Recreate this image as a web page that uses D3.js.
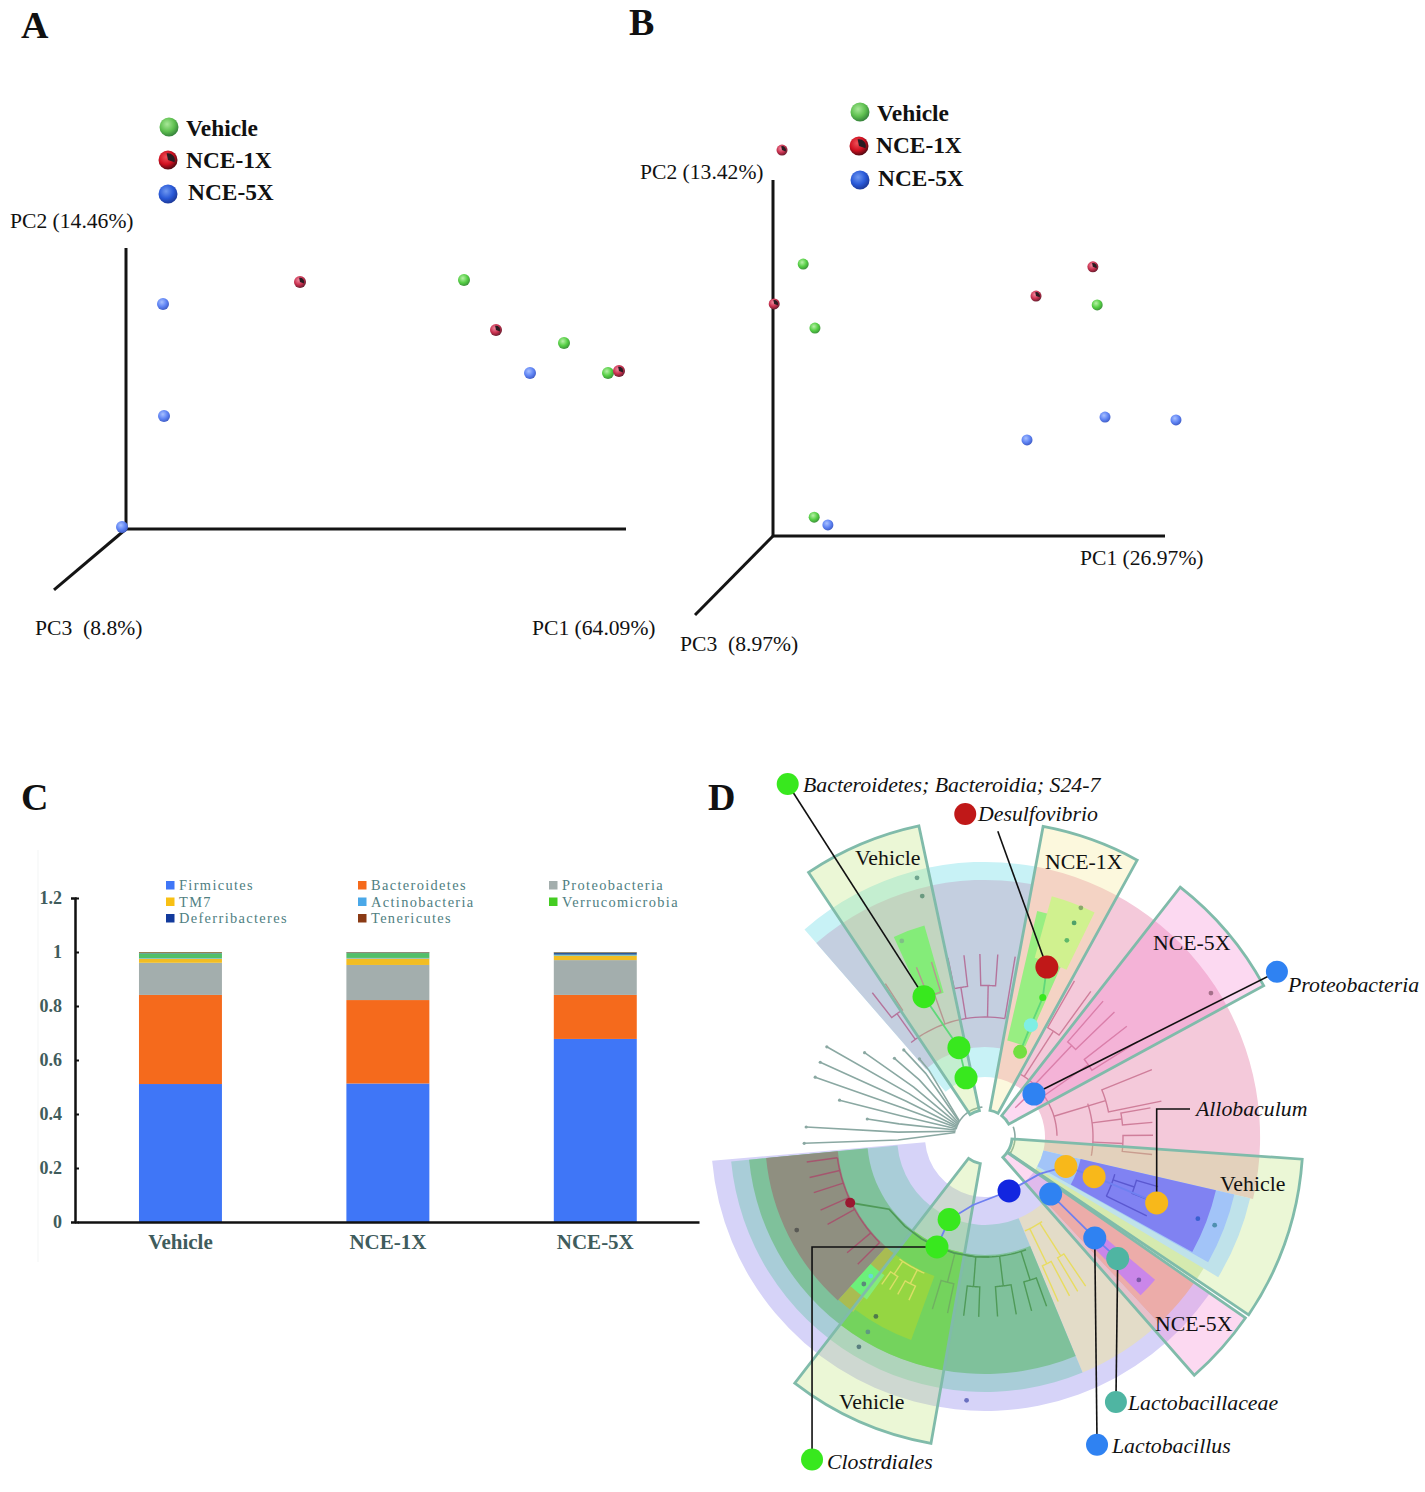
<!DOCTYPE html>
<html>
<head>
<meta charset="utf-8">
<script src="https://cdn.jsdelivr.net/npm/d3@7"></script>
<style>
html,body{margin:0;padding:0;background:#fff;}
svg{display:block;}
text{font-family:"Liberation Serif","Times New Roman",serif;white-space:pre;}
</style>
</head>
<body>
<div id="chart"></div>
<script>
// ---------- Panels A and B: PCoA coordinates, as fractions of the drawn axes ----------
const groups = ["Vehicle", "NCE-1X", "NCE-5X"];
const pcoaA_vehicle = [[0.676, 0.886], [0.876, 0.662], [0.964, 0.555]];
const pcoaA_nce1x   = [[0.348, 0.879], [0.740, 0.708], [0.986, 0.562]];
const pcoaA_nce5x   = [[0.074, 0.801], [0.076, 0.402], [0.808, 0.555], [-0.008, 0.007]];
const pcoaB_vehicle = [[0.077, 0.764], [0.107, 0.584], [0.827, 0.649], [0.105, 0.053]];
const pcoaB_nce1x   = [[0.023, 1.084], [0.816, 0.756], [0.671, 0.674], [0.003, 0.652]];
const pcoaB_nce5x   = [[0.140, 0.031], [0.648, 0.270], [0.847, 0.334], [1.028, 0.326]];

// ---------- Panel C: relative abundance ----------
const phyla = ["Firmicutes", "Bacteroidetes", "Proteobacteria", "TM7", "Actinobacteria", "Verrucomicrobia", "Deferribacteres", "Tenericutes"];
const abundanceVehicle = [0.511, 0.330, 0.119, 0.015, 0.002, 0.018, 0.002, 0.003];
const abundanceNce1x   = [0.513, 0.309, 0.130, 0.024, 0.002, 0.018, 0.002, 0.002];
const abundanceNce5x   = [0.678, 0.163, 0.129, 0.016, 0.002, 0.002, 0.008, 0.002];
const yTicks = [0, 0.2, 0.4, 0.6, 0.8, 1, 1.2];

// ---------- Panel D: cladogram. angle in degrees clockwise from north, level = ring depth ----------
// [clade style, start angle, end angle, inner level, outer level]
const cladeSectors = [
  ["cyan", -41, 10.6, 2, 9.17], ["slate", -41, 10.6, 3, 8.57],
  ["pink", 10.6, 103, 2, 9.17],
  ["pale", 119, 124.4, 2, 8.5],
  ["lavender", 125, 265, 2, 9.13], ["salmon", 125, 137, 2.7, 8.5],
  ["sand", 137, 157.5, 2.93, 8.5], ["mist", 157.5, 264.5, 2.93, 8.5], ["sea", 157.5, 264.5, 3.93, 7.9],
  ["grass", 190, 217.7, 3.93, 7.9],
  ["taupe", 222, 264.5, 4.93, 7.33], ["olive", 217, 222, 4.93, 7.3], ["lime", 200, 217, 4.93, 7.2], ["mint", 216, 222, 5.7, 6.7],
  ["purple", 130, 135.5, 5, 7.4],
  ["mint", 13, 24, 3.3, 7.73], ["spring", 15.5, 26, 6.2, 8.33], ["mint", -24.5, -16, 5, 7.33]
];
// clades that lie over their group wedge
const overlaySectors = [
  ["teal", 103, 121, 2, 9.07], ["sky", 103, 119.3, 2, 8.53], ["violet", 103, 119, 3.27, 7.9]
];
// [wedge group, start angle, end angle, outer level]
const groupWedges = [
  ["Vehicle", -33.7, -12, 10.6], ["NCE-1X", 10.6, 28.8, 10.53], ["NCE-5X", 38, 61.5, 10.57],
  ["Vehicle", 94, 124, 10.6], ["NCE-5X", 124.8, 138.7, 10.57], ["Vehicle", 190, 217.7, 10.37]
];
// unlabeled grey tips from the root: [angle, tip level]
const rootBranches = [[-43, 3.97], [-49, 4], [-60.3, 6.07], [-65.6, 6.03], [-70.6, 6], [-75.8, 5], [-81.3, 3.97], [-86.8, 5.97], [-92, 6.03], [-40, 3.4], [-55, 4.9]];
// clade trees: [clade style, trunk angle or null, spine level, spine start, spine end, tip level, forked?, tip angles...]
const cladeTrees = [
  ["plum", null, 4, -38, 9.5, 6.1, true, [-38, -33, -22, -17, -11.7, -6.6, -1.6, 4, 9.5]],
  ["rose", 46, 2.4, 29.8, 89, 6, true, [29.8, 36, 41, 46, 52, 58, 68, 78.5]],
  ["rose", null, 3.6, 72, 100, 5.6, true, [80, 85, 89.4, 96]],
  ["wine", null, 4.97, 225, 262, 6, false, [262, 257, 252, 246, 241, 230, 225]],
  ["forest", null, 4, 160, 197, 6, true, [197, 192, 186.8, 182, 176, 170, 165, 160]],
  ["amber", null, 3.4, 146, 157, 6, true, [146, 149, 152, 156]],
  ["amber", null, 4.97, 204, 215, 6, true, [205, 209, 212, 215]],
  ["indigo", null, 4.5, 106, 116, 6, true, [106, 111, 116]]
];
// connecting paths: [clade style, [angle, level] ...]
const nodeLinks = [
  ["mintline", [-17.8, 2.07], [-16.3, 3.1], [-23.5, 5.1]],
  ["mintline", [22.4, 3.07], [22.3, 4.03], [22.5, 5.03], [20, 6.03]],
  ["royal", [156, 1.97], [124, 2.2], [110, 2.87], [110, 3.87], [111, 6.13]],
  ["royal", [156, 1.97], [190, 2.3], [203.5, 3], [203.6, 4]],
  ["forest", [203.6, 4], [195, 4], [185, 4], [178, 4]],
  ["forest", [203.6, 4], [212, 4], [222, 4], [233, 4], [244, 5]],
  ["royal", [131, 2.9], [132.6, 4.97], [132.5, 6]]
];
// [fill style, angle, level, size class]
const cladeNodes = [
  ["bright", -23.5, 5.1, "big"], ["bright", -16.3, 3.1, "big"], ["bright", -17.8, 2.07, "big"],
  ["bright", 22.5, 5.03, "tiny"], ["aqua", 22.3, 4.03, "mid"], ["leaf", 22.4, 3.07, "mid"],
  ["crimson", 20, 6.03, "big"], ["azure", 48.7, 2.17, "big"], ["gold", 110, 2.87, "big"], ["gold", 110, 3.87, "big"],
  ["gold", 111, 6.13, "big"], ["navy", 156, 1.97, "big"], ["azure", 131, 2.9, "big"], ["azure", 132.6, 4.97, "big"],
  ["jade", 132.5, 6, "big"], ["bright", 203.5, 3, "big"], ["bright", 203.6, 4, "big"],
  ["maroon", 244, 5, "small"]
];
// small taxon markers at tips
const tipMarkers = [
  [-14.7, 8.93, "#6fa58e"], [-14.6, 8.3, "#6a9a80"], [-23, 7.1, "#7fbf86"], [22.7, 8.28, "#8aaa6a"], [22.6, 7.73, "#4fa06a"], [22.6, 7.1, "#5fb86a"],
  [57.5, 8.93, "#a5708a"], [243.7, 7, "#5a5a55"], [219.5, 6.35, "#5a8a7a"], [219.4, 6, "#66d8d8"], [211.3, 7, "#4f7a4a"], [211, 7.58, "#5f9a80"],
  [211, 8.16, "#5a7f80"], [184, 8.8, "#6a70c0"], [111, 7.6, "#3a60d0"], [111, 8.2, "#4f90b0"], [132.9, 7, "#7a58a8"]
];
// callouts: [taxon, angle, level of its key dot, fill style]
const calloutDots = [
  ["Bacteroidetes; Bacteroidia; S24-7", -29.2, 13.48, "bright"],
  ["Desulfovibrio", -3.5, 10.79, "crimson"],
  ["Proteobacteria", 60.5, 11.18, "azure"],
  ["Lactobacillaceae", 153.7, 9.85, "jade"],
  ["Lactobacillus", 160, 10.92, "azure"],
  ["Clostrdiales", 208.2, 12.2, "bright"]
];

// ---------- styles and layout (no data below) ----------
const W = 1425, H = 1492;
const phylumColors = ["#3f76f7", "#f56a1c", "#a3aead", "#f2bd22", "#4aa8e8", "#53bf68", "#2a5a9c", "#8a6a28"];
const legendSwatches = ["#3f76f7", "#f56a1c", "#a3aead", "#f8c014", "#4aa8e8", "#44cc22", "#123a9c", "#8a3a14"];
const sectorFill = {
  cyan: "#c8f2f6", slate: "#c4cfe0", pink: "#f4c9da", teal: "#bfe2ea", sky: "#a2c4f8", violet: "#8082f2", pale: "#e0ecc8",
  lavender: "#d6d3f8", mist: "#a9cdd8", sea: "#7fc19b", grass: "#55cc52", taupe: "#8f8f80", olive: "#a9bc52", lime: "#85d02c",
  purple: "#b888f4", mint: "#6cf07a", spring: "#bff58c", salmon: "#e8bf98", sand: "#e3dcc8"
};
const wedgeFill = { "Vehicle": "rgba(190,228,120,0.30)", "NCE-1X": "rgba(245,232,150,0.32)", "NCE-5X": "rgba(245,130,210,0.30)" };
const wedgeLine = "#80bbaa";
const treeColor = { plum: "#b5749c", rose: "#cf7e9a", wine: "#a5566e", forest: "#4f9a58", amber: "#e8dc60", indigo: "#5a58d0" };
const linkColor = { mintline: "#5fd87a", royal: "#6f80f0", forest: "#4f9a58" };
const nodeFill = {
  bright: "#38e81e", aqua: "#7feee4", leaf: "#72e040", crimson: "#c01818", azure: "#2f82f2", gold: "#f8b81a",
  navy: "#1226e0", jade: "#4fb5a2", maroon: "#9a1830"
};
const nodeSize = { big: 11.5, mid: 7, small: 5, tiny: 3.5 };
const sphereColors = { "Vehicle": ["#b8f0a8", "#55cf44", "#3a8a3a"], "NCE-1X": ["#f28aa0", "#c8304e", "#5a1a2a"], "NCE-5X": ["#a8c0ff", "#5f84f4", "#3c58c0"] };
const keyColors = { "Vehicle": ["#a8e898", "#5fc050", "#2f7a38"], "NCE-1X": ["#f05058", "#d01020", "#400810"], "NCE-5X": ["#6f98f0", "#2a5ad8", "#1a3490"] };

const svg = d3.select("#chart").append("svg").attr("width", W).attr("height", H).attr("viewBox", [0, 0, W, H]);
const defs = svg.append("defs");
const gradId = (g, key) => (key ? "key-" : "sphere-") + groups.indexOf(g);
[[sphereColors, false], [keyColors, true]].forEach(([pal, key]) => groups.forEach(g => {
  const grad = defs.append("radialGradient").attr("id", gradId(g, key)).attr("cx", "40%").attr("cy", "35%").attr("r", "70%");
  pal[g].forEach((c, i) => grad.append("stop").attr("offset", ["0%", "55%", "100%"][i]).attr("stop-color", c));
}));

// panel letters
[["A", 21, 38], ["B", 629, 35], ["C", 21, 810], ["D", 708, 810]].forEach(([t, x, y]) =>
  svg.append("text").attr("x", x).attr("y", y).attr("font-size", 38).attr("font-weight", 700).attr("fill", "#111").text(t));

function sphere(g, x, y, r, sel, key) {
  const s = (sel || svg).append("g").attr("transform", `translate(${x},${y})`);
  s.append("circle").attr("r", r).attr("fill", `url(#${gradId(g, key)})`);
  if (g === "NCE-1X") {
    s.append("path").attr("d", d3.arc().innerRadius(0).outerRadius(r * 0.72)({ startAngle: -0.2, endAngle: 1.9 })).attr("fill", "#2a1c22");
  }
}

function pcoaPanel(cfg) {
  const x = d3.scaleLinear().domain([0, 1]).range([cfg.ox, cfg.ox + cfg.lenX]);
  const y = d3.scaleLinear().domain([0, 1]).range([cfg.oy, cfg.oy - cfg.lenY]);
  const g = svg.append("g");
  const axis = (x2, y2) => g.append("line").attr("x1", x(0)).attr("y1", y(0)).attr("x2", x2).attr("y2", y2)
    .attr("stroke", "#141414").attr("stroke-width", 3);
  axis(x(1), y(0)); axis(x(0), y(1)); axis(x(cfg.p3[0]), y(cfg.p3[1]));
  cfg.labels.forEach(([t, lx, ly]) => g.append("text").attr("x", lx).attr("y", ly).attr("font-size", 21.6).attr("fill", "#111").text(t));
  cfg.series.forEach(([name, pts]) => pts.forEach(p => sphere(name, x(p[0]), y(p[1]), cfg.r, g)));
  cfg.legend.forEach(([name, sx, sy, tx, ty]) => {
    sphere(name, sx, sy, 9.5, g, true);
    g.append("text").attr("x", tx).attr("y", ty).attr("font-size", 23.4).attr("font-weight", 700).attr("fill", "#111").text(name);
  });
}
pcoaPanel({
  ox: 126, oy: 529, lenX: 500, lenY: 281, p3: [-0.144, -0.217], r: 6,
  series: [["Vehicle", pcoaA_vehicle], ["NCE-5X", pcoaA_nce5x], ["NCE-1X", pcoaA_nce1x]],
  labels: [["PC2 (14.46%)", 10, 228], ["PC3  (8.8%)", 35, 635], ["PC1 (64.09%)", 532, 635]],
  legend: [["Vehicle", 169, 127, 186, 136], ["NCE-1X", 168, 160, 186, 168], ["NCE-5X", 168, 194, 188, 200]]
});
pcoaPanel({
  ox: 773, oy: 536, lenX: 392, lenY: 356, p3: [-0.199, -0.222], r: 5.5,
  series: [["Vehicle", pcoaB_vehicle], ["NCE-5X", pcoaB_nce5x], ["NCE-1X", pcoaB_nce1x]],
  labels: [["PC2 (13.42%)", 640, 179], ["PC3  (8.97%)", 680, 651], ["PC1 (26.97%)", 1080, 565]],
  legend: [["Vehicle", 860, 112, 877, 121], ["NCE-1X", 859, 146, 876, 153], ["NCE-5X", 860, 180, 878, 186]]
});

// ---------- Panel C ----------
(function () {
  const tickColor = "#3f5c5c";
  const x = d3.scaleBand().domain(groups).range([76.75, 699]).paddingInner(0.6).paddingOuter(0.3);
  const y = d3.scaleLinear().domain([0, 1.2]).range([1222, 898]);
  const rows = phyla.map((p, i) => ({ Phylum: p, "Vehicle": abundanceVehicle[i], "NCE-1X": abundanceNce1x[i], "NCE-5X": abundanceNce5x[i] }));
  const byGroup = groups.map(g => {
    const vals = rows.map(r => r[g]);
    const cum = d3.cumsum(vals);
    return { g, segs: vals.map((v, i) => ({ i, y0: cum[i] - v, y1: cum[i] })) };
  });
  const g = svg.append("g");
  g.append("line").attr("x1", 38).attr("x2", 38).attr("y1", 850).attr("y2", 1262).attr("stroke", "#f3f5f5").attr("stroke-width", 1);
  byGroup.forEach(b => g.selectAll(null).data(b.segs).join("rect")
    .attr("x", x(b.g)).attr("width", x.bandwidth())
    .attr("y", d => y(d.y1)).attr("height", d => y(d.y0) - y(d.y1))
    .attr("fill", d => phylumColors[d.i]));
  const yAxis = g.append("g").attr("transform", "translate(75,0)")
    .call(d3.axisLeft(y).tickValues(yTicks).tickSize(4).tickFormat(d3.format("~g")));
  yAxis.select(".domain").attr("stroke", "#111").attr("stroke-width", 2.5);
  yAxis.selectAll(".tick line").attr("stroke", "#111").attr("stroke-width", 2).attr("x1", 0).attr("x2", 4);
  yAxis.selectAll("text").attr("x", -13).attr("font-size", 18).attr("font-weight", 700).attr("fill", tickColor)
    .attr("font-family", '"Liberation Serif",serif');
  const xAxis = g.append("g").attr("transform", "translate(0,1222)").call(d3.axisBottom(x).tickSize(0));
  xAxis.select(".domain").attr("stroke", "#111").attr("stroke-width", 2.5);
  xAxis.selectAll("text").attr("y", 12).attr("font-size", 21).attr("font-weight", 700).attr("fill", tickColor)
    .attr("font-family", '"Liberation Serif",serif');
  const lx = [166, 358, 549], ly = [885, 901.5, 918];
  phyla.forEach((p, i) => {
    const col = i % 3, row = Math.floor(i / 3);
    g.append("rect").attr("x", lx[col]).attr("y", ly[row] - 4).attr("width", 8.5).attr("height", 8.5).attr("fill", legendSwatches[i]);
    g.append("text").attr("x", lx[col] + 13).attr("y", ly[row] + 5).attr("font-size", 14.4)
      .attr("letter-spacing", 1.35).attr("fill", "#4f8082").text(p);
  });
})();

// ---------- Panel D ----------
(function () {
  const cx = 985, cy = 1137;
  const ringR = d3.scaleLinear().domain([0, 10]).range([0, 300]);
  const rad = d3.scaleLinear().domain([0, 180]).range([0, Math.PI]);
  const g = svg.append("g").attr("transform", `translate(${cx},${cy})`);
  const arc = d3.arc();
  const sector = (a0, a1, l0, l1) => arc({ startAngle: rad(a0), endAngle: rad(a1), innerRadius: ringR(l0), outerRadius: ringR(l1) });
  const pt = (a, l) => [ringR(l) * Math.sin(rad(a)), -ringR(l) * Math.cos(rad(a))];
  const radial = d3.lineRadial().angle(d => rad(d[0])).radius(d => ringR(d[1]));
  const arcPts = (a0, a1, l) => d3.range(0, 1.0001, 0.05).map(t => [a0 + (a1 - a0) * t, l]);

  g.selectAll("path.sector").data(cladeSectors).join("path").attr("class", "sector")
    .attr("d", d => sector(d[1], d[2], d[3], d[4])).attr("fill", d => sectorFill[d[0]]);

  // root tree
  const rootColor = "#8aa8a2";
  g.selectAll("path.root").data(rootBranches).join("path").attr("class", "root")
    .attr("d", d => radial([[d[0] * 0.45 - 40, 1], [d[0], 2.9], [d[0], d[1]]])).attr("fill", "none")
    .attr("stroke", rootColor).attr("stroke-width", 1.6);
  [[-75, -5], [70, 125]].forEach(([a0, a1]) => g.append("path").attr("d", radial(arcPts(a0, a1, 1))).attr("fill", "none").attr("stroke", rootColor).attr("stroke-width", 1.6));
  g.selectAll("circle.roottip").data(rootBranches).join("circle").attr("class", "roottip")
    .attr("cx", d => pt(d[0], d[1])[0]).attr("cy", d => pt(d[0], d[1])[1]).attr("r", 1.6).attr("fill", rootColor);

  function drawTrees(list) {
    list.forEach(([k, trunk, spine, a0, a1, tip, forked, tips]) => {
      const t = g.append("g").attr("fill", "none").attr("stroke", treeColor[k]).attr("stroke-width", 1.4);
      t.append("path").attr("d", radial(arcPts(a0, a1, spine)));
      if (trunk !== null) t.append("path").attr("d", radial([[trunk, 1.4], [trunk, spine]]));
      if (forked) {
        const fork = spine + (tip - spine) * 0.5;
        for (let i = 0; i < tips.length; i += 2) {
          if (i + 1 < tips.length) {
            const mid = (tips[i] + tips[i + 1]) / 2;
            t.append("path").attr("d", radial([[mid, spine], [mid, fork]]));
            t.append("path").attr("d", radial([[tips[i], tip], [tips[i], fork], ...arcPts(tips[i], tips[i + 1], fork), [tips[i + 1], tip]]));
          } else {
            t.append("path").attr("d", radial([[tips[i], spine], [tips[i], tip]]));
          }
        }
      } else {
        tips.forEach(a => t.append("path").attr("d", radial([[a, spine], [a, tip]])));
      }
    });
  }
  drawTrees(cladeTrees.filter(d => d[0] !== "indigo"));

  // group wedges
  g.selectAll("path.wedge").data(groupWedges).join("path").attr("class", "wedge")
    .attr("d", d => sector(d[1], d[2], 0.9, d[3])).attr("fill", d => wedgeFill[d[0]])
    .attr("stroke", wedgeLine).attr("stroke-width", 2.8).attr("stroke-linejoin", "miter");

  g.selectAll("path.over").data(overlaySectors).join("path").attr("class", "over")
    .attr("d", d => sector(d[1], d[2], d[3], d[4])).attr("fill", d => sectorFill[d[0]]);
  drawTrees(cladeTrees.filter(d => d[0] === "indigo"));

  // links, tip markers
  nodeLinks.forEach(([k, ...pts]) => g.append("path").attr("d", radial(pts)).attr("fill", "none").attr("stroke", linkColor[k]).attr("stroke-width", 1.8));
  g.selectAll("circle.tip").data(tipMarkers).join("circle").attr("class", "tip")
    .attr("cx", d => pt(d[0], d[1])[0]).attr("cy", d => pt(d[0], d[1])[1]).attr("r", 2.4).attr("fill", d => d[2]);

  // callout leader lines
  const dot = name => { const c = calloutDots.find(d => d[0] === name); return pt(c[1], c[2]); };
  const leader = pts => g.append("path").attr("d", d3.line()(pts)).attr("fill", "none").attr("stroke", "#111").attr("stroke-width", 1.6);
  leader([dot("Bacteroidetes; Bacteroidia; S24-7"), pt(-23.5, 5.1)]);
  leader([pt(2.4, 10.2), pt(20, 6.03)]);
  leader([dot("Proteobacteria"), pt(48.7, 2.17)]);
  leader([dot("Lactobacillaceae"), pt(132.5, 6)]);
  leader([dot("Lactobacillus"), pt(132.6, 4.97)]);
  const clo = dot("Clostrdiales"), cloN = pt(203.6, 4);
  leader([clo, [clo[0], cloN[1]], cloN]);
  const allo = pt(111, 6.13);
  leader([allo, [allo[0], -28], [205, -28]]);

  // nodes
  g.selectAll("circle.node").data(cladeNodes).join("circle").attr("class", "node")
    .attr("cx", d => pt(d[1], d[2])[0]).attr("cy", d => pt(d[1], d[2])[1]).attr("r", d => nodeSize[d[3]]).attr("fill", d => nodeFill[d[0]]);
  g.selectAll("circle.key").data(calloutDots).join("circle").attr("class", "key")
    .attr("cx", d => pt(d[1], d[2])[0]).attr("cy", d => pt(d[1], d[2])[1]).attr("r", 11).attr("fill", d => nodeFill[d[3]]);

  // text
  [["Bacteroidetes; Bacteroidia; S24-7", 803, 792], ["Desulfovibrio", 978, 821], ["Proteobacteria", 1288, 992],
   ["Allobaculum", 1196, 1116], ["Lactobacillaceae", 1128, 1410], ["Lactobacillus", 1112, 1453], ["Clostrdiales", 827, 1469]]
    .forEach(([t, x, y]) => svg.append("text").attr("x", x).attr("y", y).attr("font-size", 21.8).attr("font-style", "italic").attr("fill", "#111").text(t));
  [["Vehicle", 855, 865], ["NCE-1X", 1045, 869], ["NCE-5X", 1153, 950], ["Vehicle", 1220, 1191], ["NCE-5X", 1155, 1331], ["Vehicle", 839, 1409]]
    .forEach(([t, x, y]) => svg.append("text").attr("x", x).attr("y", y).attr("font-size", 21.8).attr("fill", "#111").text(t));
})();
</script>
</body>
</html>
